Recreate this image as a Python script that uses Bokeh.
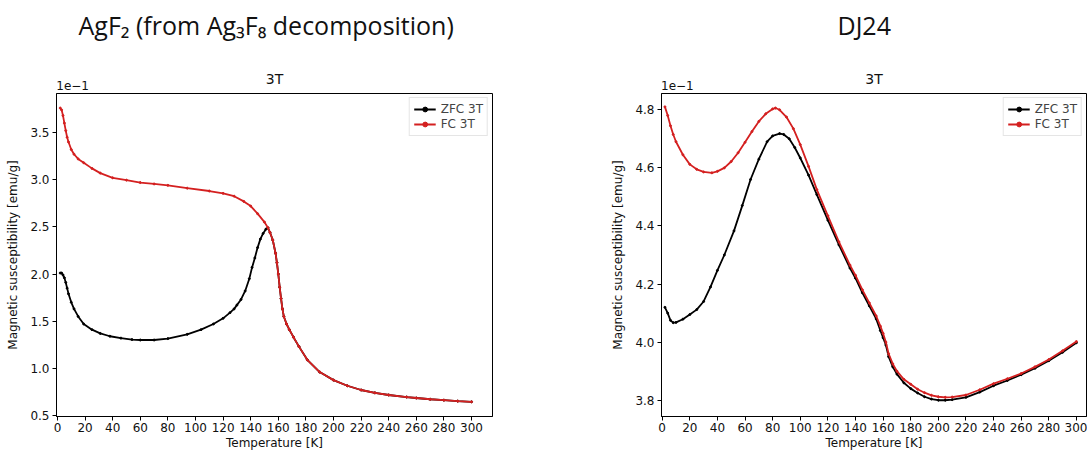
from bokeh.plotting import figure
from bokeh.layouts import row
from bokeh.models import Range1d, FixedTicker, PrintfTickFormatter, LinearAxis, Title
from bokeh.embed import file_html
from bokeh.resources import INLINE

# ---------------- data (values in units of 1e-1 emu/g) ----------------
titles = ["AgF\u2082 (from Ag\u2083F\u2088 decomposition)", "DJ24"]
field_title = "3T"
scale_label = "1e\u22121"
x_label = "Temperature [K]"
y_label = "Magnetic susceptibility [emu/g]"
series_names = ["ZFC 3T", "FC 3T"]
x_ticks = [0, 20, 40, 60, 80, 100, 120, 140, 160, 180, 200, 220, 240, 260, 280, 300]
y_ticks_a = [0.5, 1.0, 1.5, 2.0, 2.5, 3.0, 3.5]
y_ticks_b = [3.8, 4.0, 4.2, 4.4, 4.6, 4.8]

# AgF2 - ZFC
t_zfc_a = [2, 3, 4, 5, 6, 7, 8, 10, 12, 15, 19, 25, 31, 38, 46, 54, 60, 70, 80, 94, 104, 113,
           120, 125, 128, 130, 133, 136, 139, 141, 143, 145, 147, 149, 151, 152.5, 154,
           156, 158, 159, 160, 161, 162, 163, 164, 166, 168, 171, 175, 181, 190, 200, 210,
           220, 230, 240, 253, 260, 270, 280, 290, 300]
chi_zfc_a = [2.01, 2.01, 1.99, 1.96, 1.91, 1.85, 1.79, 1.70, 1.63, 1.55, 1.47, 1.41, 1.37, 1.34,
             1.32, 1.305, 1.30, 1.30, 1.315, 1.36, 1.41, 1.47,
             1.53, 1.59, 1.63, 1.67, 1.73, 1.82, 1.95, 2.07, 2.17, 2.28, 2.37, 2.43, 2.475, 2.49, 2.44,
             2.36, 2.22, 2.12, 2.00, 1.86, 1.74, 1.63, 1.55, 1.47, 1.41, 1.33, 1.23, 1.09, 0.96, 0.875,
             0.815, 0.77, 0.74, 0.717, 0.695, 0.685, 0.672, 0.662, 0.652, 0.645]
# AgF2 - FC
t_fc_a = [2, 3, 4, 5, 6, 7, 8, 10, 12, 15, 19, 25, 31, 40, 50, 60, 70, 80, 94, 110, 120, 128,
          135, 140, 145, 150, 152.5, 154, 156, 158, 159, 160, 161, 162, 163, 164, 166, 168, 171,
          175, 181, 190, 200, 210, 220, 230, 240, 253, 260, 270, 280, 290, 300]
chi_fc_a = [3.76, 3.74, 3.68, 3.60, 3.52, 3.45, 3.40, 3.32, 3.27, 3.22, 3.18, 3.12, 3.07, 3.02,
            2.995, 2.97, 2.955, 2.94, 2.91, 2.88, 2.855, 2.825,
            2.77, 2.72, 2.64, 2.55, 2.49, 2.44, 2.36, 2.22, 2.12, 2.00, 1.86, 1.74, 1.63, 1.55,
            1.47, 1.41, 1.33, 1.23, 1.09, 0.96, 0.875, 0.815, 0.77, 0.74, 0.717, 0.695, 0.685,
            0.672, 0.662, 0.652, 0.645]

# DJ24 - ZFC
t_zfc_b = [2, 4, 6, 8, 10, 15, 20, 25, 30, 35, 40, 45, 52, 58, 64, 70, 76, 80, 85, 88, 92, 96,
           100, 106, 112, 120, 128, 136, 140, 145, 150, 155, 158, 160, 162, 164, 167, 170, 175,
           180, 185, 190, 195, 200, 205, 210, 220, 230, 240, 250, 260, 270, 280, 290, 300]
chi_zfc_b = [4.12, 4.10, 4.075, 4.067, 4.068, 4.079, 4.095, 4.112, 4.14, 4.19, 4.247, 4.30,
             4.383, 4.47, 4.56, 4.63, 4.69, 4.71, 4.718, 4.715, 4.70, 4.67,
             4.634, 4.575, 4.508, 4.42, 4.335, 4.255, 4.22, 4.17, 4.125, 4.08, 4.04, 4.015, 3.99,
             3.95, 3.915, 3.89, 3.86, 3.84, 3.825, 3.812, 3.804, 3.80, 3.80, 3.802, 3.81, 3.828,
             3.85, 3.868, 3.888, 3.91, 3.936, 3.965, 3.998]
# DJ24 - FC
t_fc_b = [2, 4, 6, 8, 10, 15, 20, 25, 30, 36, 40, 45, 50, 55, 60, 65, 70, 75, 80, 82, 85, 90,
          95, 100, 106, 112, 120, 128, 136, 140, 145, 150, 155, 158, 160, 162, 164, 167, 170,
          175, 180, 185, 190, 195, 200, 205, 210, 220, 230, 240, 250, 260, 270, 280, 290, 300]
chi_fc_b = [4.81, 4.78, 4.745, 4.715, 4.69, 4.645, 4.612, 4.595, 4.586, 4.583, 4.588, 4.60,
            4.622, 4.652, 4.688, 4.725, 4.76, 4.786, 4.803, 4.806, 4.80, 4.775,
            4.735, 4.68, 4.605, 4.525, 4.435, 4.345, 4.265, 4.23, 4.18, 4.135, 4.09, 4.055, 4.03,
            4.0, 3.96, 3.925, 3.90, 3.872, 3.855, 3.838, 3.826, 3.817, 3.812, 3.81, 3.811, 3.818,
            3.836, 3.857, 3.874, 3.892, 3.915, 3.94, 3.97, 4.002]

ZFC_COLOR = "#000000"
FC_COLOR = "#d42020"
FONT = "DejaVu Sans"


def make_panel(width, bl, br, xr, yr, yticks, t_z, c_z, t_f, c_f, title, title_off, scale_x):
    p = figure(width=width, height=453, output_backend="svg", toolbar_location=None,
               x_range=Range1d(*xr), y_range=Range1d(*yr),
               min_border_left=bl, min_border_right=br, min_border_top=92, min_border_bottom=37)
    p.background_fill_color = "white"
    p.border_fill_color = "white"
    p.outline_line_color = "black"
    p.outline_line_width = 1
    p.grid.visible = False

    xa = p.below[0]
    ya = p.left[0]
    for ax in (xa, ya):
        ax.axis_line_color = "black"
        ax.major_tick_line_color = "black"
        ax.minor_tick_line_color = None
        ax.major_tick_out = 4
        ax.major_tick_in = 0
        ax.major_label_text_font = FONT
        ax.major_label_text_font_size = "12px"
        ax.major_label_text_color = "#111111"
        ax.axis_label_text_font = FONT
        ax.axis_label_text_font_size = "12px"
        ax.axis_label_text_font_style = "normal"
        ax.axis_label_text_color = "#111111"
    xa.ticker = FixedTicker(ticks=x_ticks)
    ya.ticker = FixedTicker(ticks=yticks)
    ya.formatter = PrintfTickFormatter(format="%.1f")
    xa.major_label_standoff = 2
    xa.axis_label_standoff = 1
    xa.axis_label = x_label
    ya.major_label_standoff = 3
    ya.axis_label_standoff = 7
    ya.axis_label = y_label

    # top "axis" used only to carry the 3T caption and the 1e-1 scale note
    top = LinearAxis(ticker=FixedTicker(ticks=[scale_x]),
                     major_label_overrides={scale_x: scale_label},
                     axis_label=field_title)
    top.axis_line_color = None
    top.major_tick_line_color = None
    top.minor_tick_line_color = None
    top.major_tick_out = 0
    top.major_tick_in = 0
    top.major_label_standoff = 4
    top.major_label_text_font = FONT
    top.major_label_text_font_size = "12px"
    top.major_label_text_color = "#111111"
    top.axis_label_text_font = FONT
    top.axis_label_text_font_size = "14px"
    top.axis_label_text_font_style = "normal"
    top.axis_label_text_color = "#111111"
    top.axis_label_standoff = -9
    p.add_layout(top, "above")

    # blank spacer between the caption row and the sample title
    p.add_layout(Title(text="\u00a0", text_font_size="8px"), "above")

    p.title.text = title
    p.title.text_font = "Open Sans"
    p.title.text_font_size = "25px"
    p.title.text_font_style = "normal"
    p.title.text_color = "#111111"
    p.title.align = "left"
    p.title.offset = title_off

    p.line(t_z, c_z, color=ZFC_COLOR, line_width=1.8, legend_label=series_names[0])
    p.scatter(t_z, c_z, color=ZFC_COLOR, size=2, legend_label=series_names[0])
    p.line(t_f, c_f, color=FC_COLOR, line_width=1.8, legend_label=series_names[1])
    p.scatter(t_f, c_f, color=FC_COLOR, size=2, legend_label=series_names[1])

    lg = p.legend[0]
    lg.location = "top_right"
    lg.label_text_font = FONT
    lg.label_text_font_size = "12px"
    lg.label_height = 12
    lg.glyph_height = 12
    lg.glyph_width = 22
    lg.label_standoff = 5
    lg.padding = 4
    lg.spacing = 1
    lg.margin = 4
    lg.border_line_color = "#cccccc"
    lg.border_line_width = 1
    lg.background_fill_alpha = 0.9
    return p


p1 = make_panel(600, 56, 108, (-0.7, 315.2), (0.489, 3.914), y_ticks_a,
                t_zfc_a, chi_zfc_a, t_fc_a, chi_fc_a, titles[0], 22, 11)
p2 = make_panel(487, 61, 1, (-0.5, 307.3), (3.744, 4.856), y_ticks_b,
                t_zfc_b, chi_zfc_b, t_fc_b, chi_fc_b, titles[1], 176, 11)

layout = row(p1, p2)
open("out.html", "w").write(file_html(layout, INLINE))
